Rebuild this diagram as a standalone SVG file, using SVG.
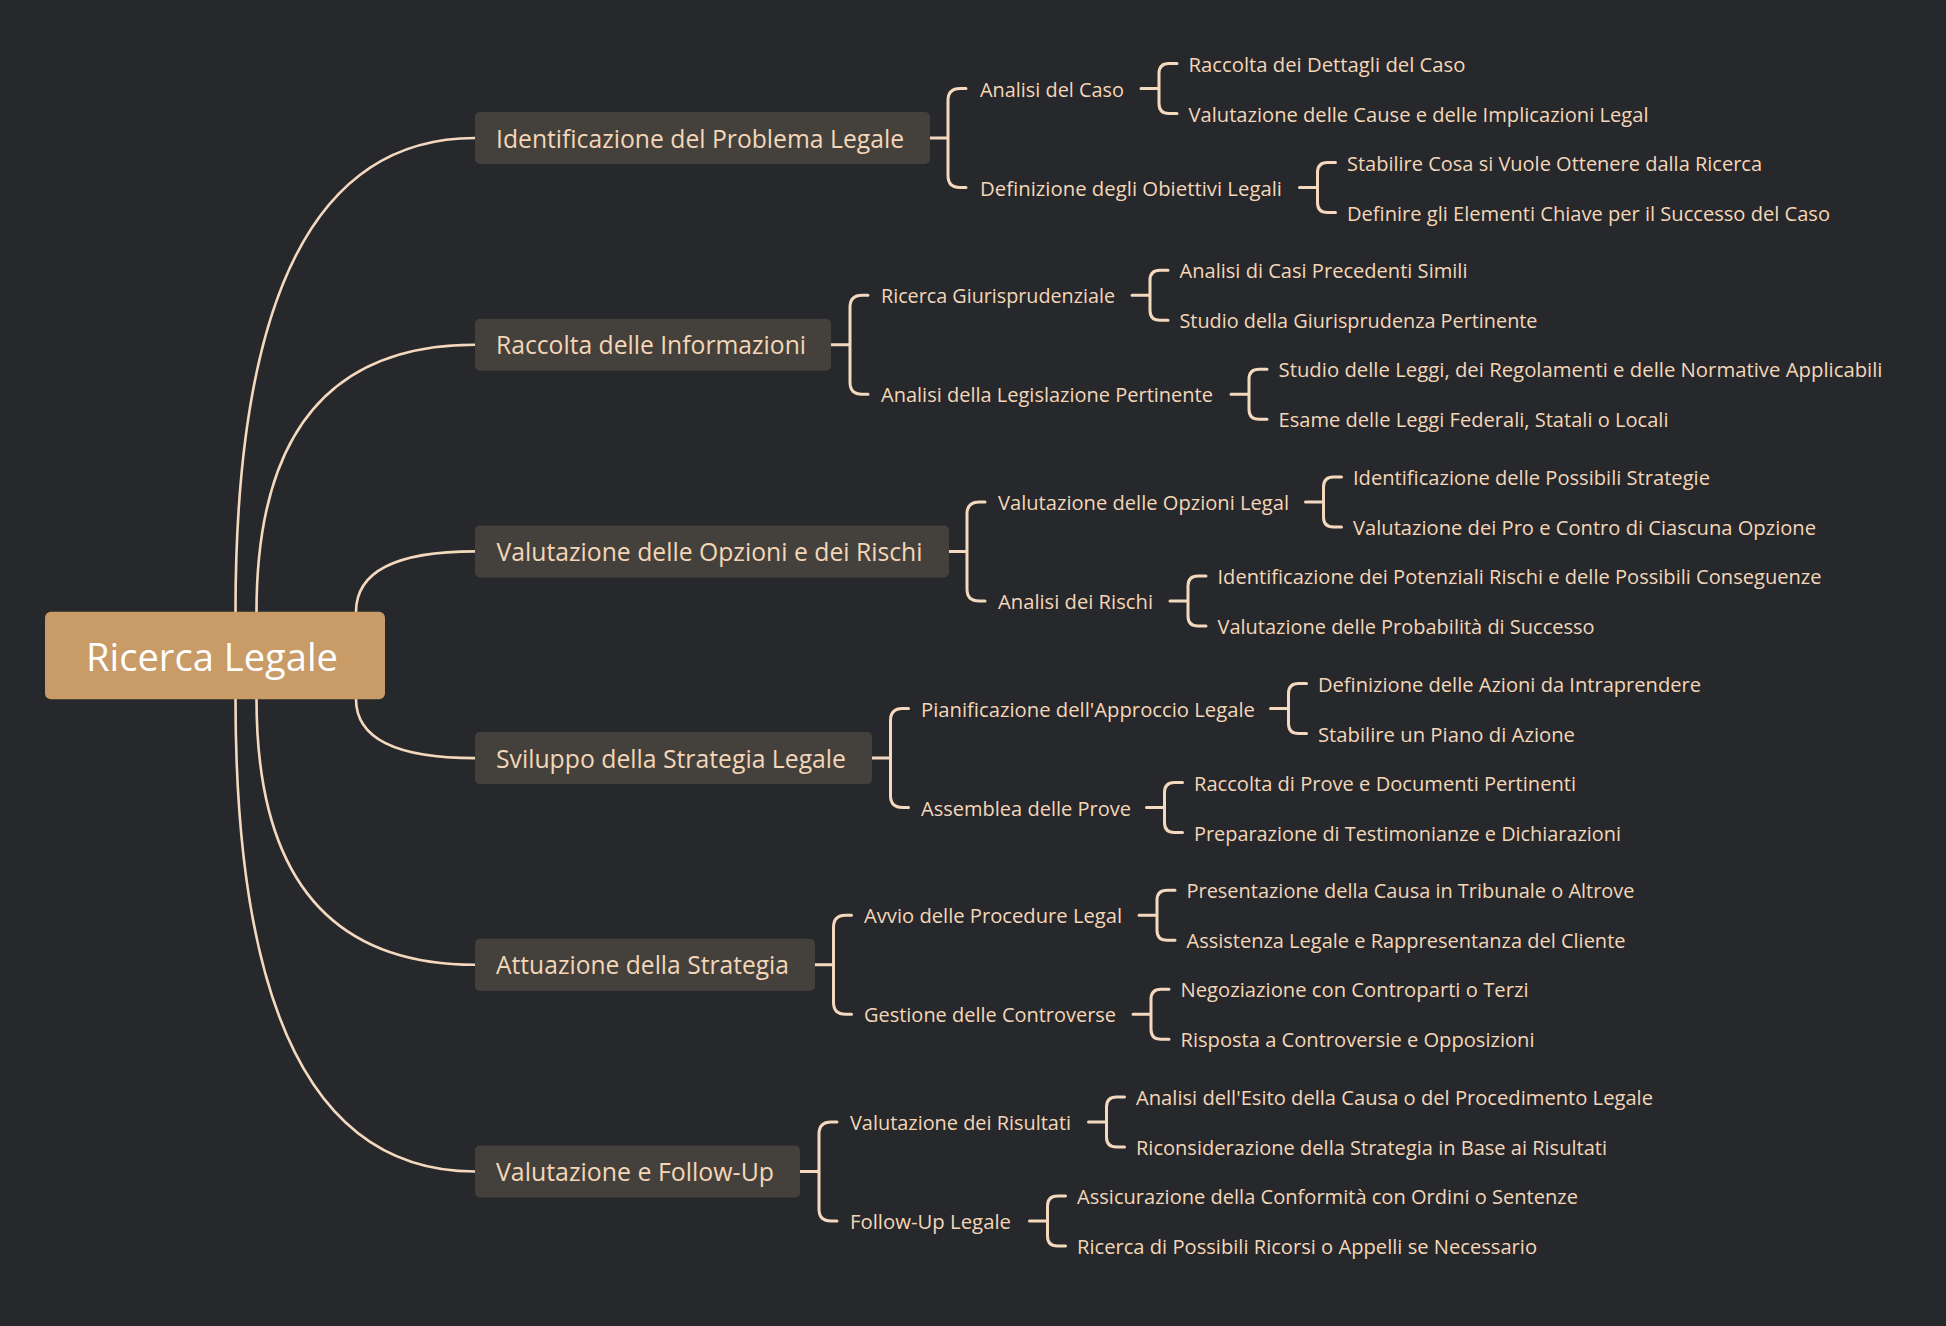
<svg xmlns="http://www.w3.org/2000/svg" width="1946" height="1326" viewBox="0 0 1946 1326">
<style>
.bg{fill:#26282b}
.ln{fill:none;stroke:#f5d9bf;stroke-width:3;stroke-linecap:round}
.cv{fill:none;stroke:#f5d9bf;stroke-width:2.6}
.box{fill:#44413c}
.root{fill:#c89b67}
text{font-family:"Open Sans","Noto Sans","Liberation Sans",sans-serif;fill:#f4d6b8}
.t1{font-size:26px}
.t2{font-size:20px}
.t0{font-size:39px;fill:#ffffff}
</style>
<rect class="bg" x="0" y="0" width="1946" height="1326"/>
<g id="connectors">
<path class="cv" d="M235.5 612Q235.5 138 475 138"/>
<path class="cv" d="M256.5 612Q256.5 344.7 475 344.7"/>
<path class="cv" d="M356 612Q356 551.4 475 551.4"/>
<path class="cv" d="M356 699Q356 758.1 475 758.1"/>
<path class="cv" d="M256.5 699Q256.5 964.8 475 964.8"/>
<path class="cv" d="M235.5 699Q235.5 1171.5 475 1171.5"/>
<path class="ln" d="M930 138H948M966 88.5H960Q948 88.5 948 100.5V175.5Q948 187.5 960 187.5H966"/>
<path class="ln" d="M1141 88.5H1159M1177 63.5H1169Q1159 63.5 1159 73.5V103.5Q1159 113.5 1169 113.5H1177"/>
<path class="ln" d="M1299.5 187.5H1317.5M1335.5 162.5H1327.5Q1317.5 162.5 1317.5 172.5V202.5Q1317.5 212.5 1327.5 212.5H1335.5"/>
<path class="ln" d="M831 344.7H850M868 295.2H862Q850 295.2 850 307.2V382.2Q850 394.2 862 394.2H868"/>
<path class="ln" d="M1132 295.2H1150M1168 270.2H1160Q1150 270.2 1150 280.2V310.2Q1150 320.2 1160 320.2H1168"/>
<path class="ln" d="M1231 394.2H1249M1267 369.2H1259Q1249 369.2 1249 379.2V409.2Q1249 419.2 1259 419.2H1267"/>
<path class="ln" d="M949 551.4H967M985 501.9H979Q967 501.9 967 513.9V588.9Q967 600.9 979 600.9H985"/>
<path class="ln" d="M1305.5 501.9H1323.5M1341.5 476.9H1333.5Q1323.5 476.9 1323.5 486.9V516.9Q1323.5 526.9 1333.5 526.9H1341.5"/>
<path class="ln" d="M1170 600.9H1188M1206 575.9H1198Q1188 575.9 1188 585.9V615.9Q1188 625.9 1198 625.9H1206"/>
<path class="ln" d="M872 758.1H890.5M908.5 708.6H902.5Q890.5 708.6 890.5 720.6V795.6Q890.5 807.6 902.5 807.6H908.5"/>
<path class="ln" d="M1270.5 708.6H1288.5M1306.5 683.6H1298.5Q1288.5 683.6 1288.5 693.6V723.6Q1288.5 733.6 1298.5 733.6H1306.5"/>
<path class="ln" d="M1146.5 807.6H1164.5M1182.5 782.6H1174.5Q1164.5 782.6 1164.5 792.6V822.6Q1164.5 832.6 1174.5 832.6H1182.5"/>
<path class="ln" d="M815 964.8H833.5M851.5 915.3H845.5Q833.5 915.3 833.5 927.3V1002.3Q833.5 1014.3 845.5 1014.3H851.5"/>
<path class="ln" d="M1139 915.3H1157M1175 890.3H1167Q1157 890.3 1157 900.3V930.3Q1157 940.3 1167 940.3H1175"/>
<path class="ln" d="M1133 1014.3H1151M1169 989.3H1161Q1151 989.3 1151 999.3V1029.3Q1151 1039.3 1161 1039.3H1169"/>
<path class="ln" d="M800 1171.5H819M837 1122H831Q819 1122 819 1134V1209Q819 1221 831 1221H837"/>
<path class="ln" d="M1088.5 1122H1106.5M1124.5 1097H1116.5Q1106.5 1097 1106.5 1107V1137Q1106.5 1147 1116.5 1147H1124.5"/>
<path class="ln" d="M1029.5 1221H1047.5M1065.5 1196H1057.5Q1047.5 1196 1047.5 1206V1236Q1047.5 1246 1057.5 1246H1065.5"/>
</g>
<g id="root"><rect class="root" x="45" y="611.7" width="340" height="87.5" rx="6"/><text class="t0" x="86" y="670.5" textLength="252" lengthAdjust="spacingAndGlyphs">Ricerca Legale</text></g>

<g id="n1"><rect class="box" x="475" y="112" width="455" height="52" rx="5"/><text class="t1" x="496" y="147.5" textLength="408" lengthAdjust="spacingAndGlyphs">Identificazione del Problema Legale</text></g>
<g id="n1a"><text class="t2" x="980" y="96.5" textLength="144" lengthAdjust="spacingAndGlyphs">Analisi del Caso</text></g>
<g id="n1a1"><text class="t2" x="1188.5" y="71.5" textLength="277" lengthAdjust="spacingAndGlyphs">Raccolta dei Dettagli del Caso</text></g>
<g id="n1a2"><text class="t2" x="1188.5" y="121.5" textLength="460" lengthAdjust="spacingAndGlyphs">Valutazione delle Cause e delle Implicazioni Legal</text></g>
<g id="n1b"><text class="t2" x="980" y="195.5" textLength="302" lengthAdjust="spacingAndGlyphs">Definizione degli Obiettivi Legali</text></g>
<g id="n1b1"><text class="t2" x="1347" y="170.5" textLength="415" lengthAdjust="spacingAndGlyphs">Stabilire Cosa si Vuole Ottenere dalla Ricerca</text></g>
<g id="n1b2"><text class="t2" x="1347" y="220.5" textLength="483" lengthAdjust="spacingAndGlyphs">Definire gli Elementi Chiave per il Successo del Caso</text></g>

<g id="n2"><rect class="box" x="475" y="318.7" width="356" height="52" rx="5"/><text class="t1" x="496" y="354.2" textLength="310" lengthAdjust="spacingAndGlyphs">Raccolta delle Informazioni</text></g>
<g id="n2a"><text class="t2" x="881" y="303.2" textLength="234" lengthAdjust="spacingAndGlyphs">Ricerca Giurisprudenziale</text></g>
<g id="n2a1"><text class="t2" x="1179.5" y="278.2" textLength="288" lengthAdjust="spacingAndGlyphs">Analisi di Casi Precedenti Simili</text></g>
<g id="n2a2"><text class="t2" x="1179.5" y="328.2" textLength="358" lengthAdjust="spacingAndGlyphs">Studio della Giurisprudenza Pertinente</text></g>
<g id="n2b"><text class="t2" x="881" y="402.2" textLength="332" lengthAdjust="spacingAndGlyphs">Analisi della Legislazione Pertinente</text></g>
<g id="n2b1"><text class="t2" x="1278.5" y="377.2" textLength="604" lengthAdjust="spacingAndGlyphs">Studio delle Leggi, dei Regolamenti e delle Normative Applicabili</text></g>
<g id="n2b2"><text class="t2" x="1278.5" y="427.2" textLength="390" lengthAdjust="spacingAndGlyphs">Esame delle Leggi Federali, Statali o Locali</text></g>

<g id="n3"><rect class="box" x="475" y="525.4" width="474" height="52" rx="5"/><text class="t1" x="496.5" y="560.9" textLength="426" lengthAdjust="spacingAndGlyphs">Valutazione delle Opzioni e dei Rischi</text></g>
<g id="n3a"><text class="t2" x="998" y="509.9" textLength="291" lengthAdjust="spacingAndGlyphs">Valutazione delle Opzioni Legal</text></g>
<g id="n3a1"><text class="t2" x="1353" y="484.9" textLength="357" lengthAdjust="spacingAndGlyphs">Identificazione delle Possibili Strategie</text></g>
<g id="n3a2"><text class="t2" x="1353" y="534.9" textLength="463" lengthAdjust="spacingAndGlyphs">Valutazione dei Pro e Contro di Ciascuna Opzione</text></g>
<g id="n3b"><text class="t2" x="998" y="608.9" textLength="155" lengthAdjust="spacingAndGlyphs">Analisi dei Rischi</text></g>
<g id="n3b1"><text class="t2" x="1217.5" y="583.9" textLength="604" lengthAdjust="spacingAndGlyphs">Identificazione dei Potenziali Rischi e delle Possibili Conseguenze</text></g>
<g id="n3b2"><text class="t2" x="1217.5" y="633.9" textLength="377" lengthAdjust="spacingAndGlyphs">Valutazione delle Probabilità di Successo</text></g>

<g id="n4"><rect class="box" x="475" y="732.1" width="397" height="52" rx="5"/><text class="t1" x="496" y="767.6" textLength="350" lengthAdjust="spacingAndGlyphs">Sviluppo della Strategia Legale</text></g>
<g id="n4a"><text class="t2" x="921" y="716.6" textLength="334" lengthAdjust="spacingAndGlyphs">Pianificazione dell'Approccio Legale</text></g>
<g id="n4a1"><text class="t2" x="1318" y="691.6" textLength="383" lengthAdjust="spacingAndGlyphs">Definizione delle Azioni da Intraprendere</text></g>
<g id="n4a2"><text class="t2" x="1318" y="741.6" textLength="257" lengthAdjust="spacingAndGlyphs">Stabilire un Piano di Azione</text></g>
<g id="n4b"><text class="t2" x="921" y="815.6" textLength="210" lengthAdjust="spacingAndGlyphs">Assemblea delle Prove</text></g>
<g id="n4b1"><text class="t2" x="1194" y="790.6" textLength="382" lengthAdjust="spacingAndGlyphs">Raccolta di Prove e Documenti Pertinenti</text></g>
<g id="n4b2"><text class="t2" x="1194" y="840.6" textLength="427" lengthAdjust="spacingAndGlyphs">Preparazione di Testimonianze e Dichiarazioni</text></g>

<g id="n5"><rect class="box" x="475" y="938.8" width="340" height="52" rx="5"/><text class="t1" x="496" y="974.3" textLength="293" lengthAdjust="spacingAndGlyphs">Attuazione della Strategia</text></g>
<g id="n5a"><text class="t2" x="864" y="923.3" textLength="258" lengthAdjust="spacingAndGlyphs">Avvio delle Procedure Legal</text></g>
<g id="n5a1"><text class="t2" x="1186.5" y="898.3" textLength="448" lengthAdjust="spacingAndGlyphs">Presentazione della Causa in Tribunale o Altrove</text></g>
<g id="n5a2"><text class="t2" x="1186.5" y="948.3" textLength="439" lengthAdjust="spacingAndGlyphs">Assistenza Legale e Rappresentanza del Cliente</text></g>
<g id="n5b"><text class="t2" x="864" y="1022.3" textLength="252" lengthAdjust="spacingAndGlyphs">Gestione delle Controverse</text></g>
<g id="n5b1"><text class="t2" x="1180.5" y="997.3" textLength="348" lengthAdjust="spacingAndGlyphs">Negoziazione con Controparti o Terzi</text></g>
<g id="n5b2"><text class="t2" x="1180.5" y="1047.3" textLength="354" lengthAdjust="spacingAndGlyphs">Risposta a Controversie e Opposizioni</text></g>

<g id="n6"><rect class="box" x="475" y="1145.5" width="325" height="52" rx="5"/><text class="t1" x="496" y="1181" textLength="278" lengthAdjust="spacingAndGlyphs">Valutazione e Follow-Up</text></g>
<g id="n6a"><text class="t2" x="850" y="1130" textLength="221" lengthAdjust="spacingAndGlyphs">Valutazione dei Risultati</text></g>
<g id="n6a1"><text class="t2" x="1136" y="1105" textLength="517" lengthAdjust="spacingAndGlyphs">Analisi dell'Esito della Causa o del Procedimento Legale</text></g>
<g id="n6a2"><text class="t2" x="1136" y="1155" textLength="471" lengthAdjust="spacingAndGlyphs">Riconsiderazione della Strategia in Base ai Risultati</text></g>
<g id="n6b"><text class="t2" x="850" y="1229" textLength="161" lengthAdjust="spacingAndGlyphs">Follow-Up Legale</text></g>
<g id="n6b1"><text class="t2" x="1077" y="1204" textLength="501" lengthAdjust="spacingAndGlyphs">Assicurazione della Conformità con Ordini o Sentenze</text></g>
<g id="n6b2"><text class="t2" x="1077" y="1254" textLength="460" lengthAdjust="spacingAndGlyphs">Ricerca di Possibili Ricorsi o Appelli se Necessario</text></g>
</svg>
